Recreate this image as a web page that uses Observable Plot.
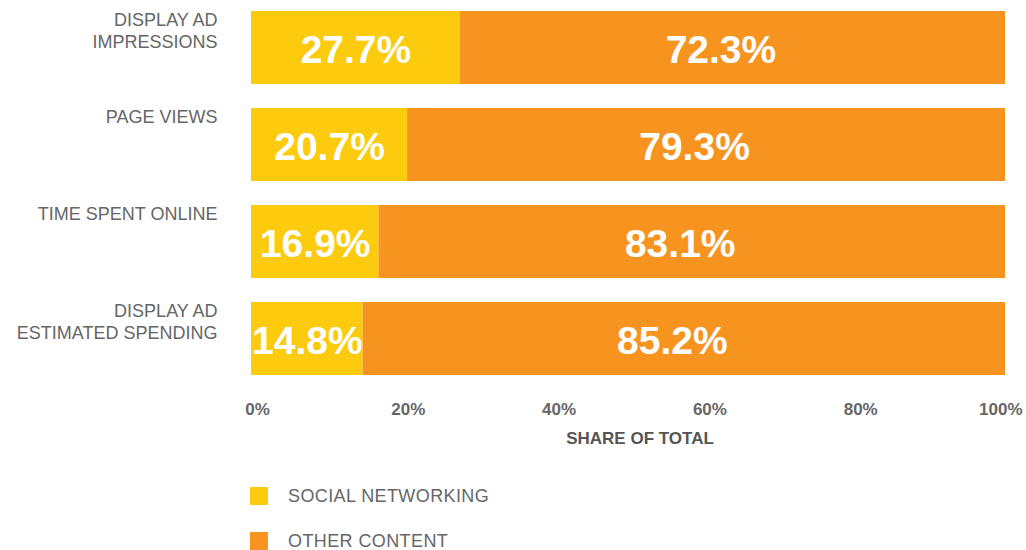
<!DOCTYPE html>
<html>
<head>
<meta charset="utf-8">
<script src="https://cdn.jsdelivr.net/npm/d3@7"></script>
<script src="https://cdn.jsdelivr.net/npm/@observablehq/plot@0.6"></script>
<style>
  html, body { margin: 0; padding: 0; background: #fff; }
  body { width: 1026px; height: 550px; overflow: hidden; font-family: "Liberation Sans", Arial, Helvetica, sans-serif; }
  #chart svg { display: block; }
  #legend { position: relative; margin-left: 250px; margin-top: 27px; }
  .item { display: flex; align-items: center; height: 18px; margin-bottom: 27px; }
  .sw { width: 18px; height: 18px; margin-right: 20px; }
  .lab { font-size: 18px; color: #666; letter-spacing: 0.4px; }
</style>
</head>
<body>
<div id="chart"></div>
<div id="legend"></div>
<script>
const categories = ["DISPLAY AD\nIMPRESSIONS", "PAGE VIEWS", "TIME SPENT ONLINE", "DISPLAY AD\nESTIMATED SPENDING"];
const seriesNames = ["SOCIAL NETWORKING", "OTHER CONTENT"];
const socialNetworking = [27.7, 20.7, 16.9, 14.8];
const otherContent = [72.3, 79.3, 83.1, 85.2];
const xTicks = [0, 20, 40, 60, 80, 100];
const axisTitle = "SHARE OF TOTAL";
const colors = ["#FDCB0E", "#F7941F"];

const rows = [];
categories.forEach((c, i) => {
  rows.push({cat: c, series: seriesNames[0], value: socialNetworking[i]});
  rows.push({cat: c, series: seriesNames[1], value: otherContent[i]});
});
const fmt = d => d.value.toFixed(1) + "%";
const tickFmt = d => d + "%";
const font = '"Liberation Sans", Arial, Helvetica, sans-serif';

const chart = Plot.plot({
  width: 1026,
  height: 460,
  marginLeft: 251,
  marginRight: 21,
  marginTop: 10,
  marginBottom: 85,
  style: {fontFamily: font},
  x: {domain: [0, 100], axis: null},
  y: {domain: categories, paddingInner: 0.25, paddingOuter: 0, axis: null},
  color: {domain: seriesNames, range: colors},
  marks: [
    Plot.barX(rows, Plot.stackX({x: "value", y: "cat", fill: "series", order: seriesNames})),
    Plot.text(rows, Plot.stackX({
      x: "value", y: "cat", z: "series", order: seriesNames,
      text: d => d.series === seriesNames[0] ? fmt(d) : "",
      fill: "white", fontSize: 39, fontWeight: "bold", dy: 3
    })),
    Plot.text(rows, Plot.stackX({
      x: "value", y: "cat", z: "series", order: seriesNames,
      text: d => d.series === seriesNames[1] ? fmt(d) : "",
      fill: "white", fontSize: 39, fontWeight: "bold", dy: 3, dx: -12
    })),
    Plot.text(categories, {
      y: d => d, text: d => d, frameAnchor: "left", textAnchor: "end",
      lineAnchor: "top", lineHeight: 1.26, dx: -34, dy: -38.5,
      fontSize: 18, fill: "#666"
    }),
    Plot.axisX(xTicks.slice(0, -1), {
      tickSize: 0, tickPadding: 27, tickFormat: tickFmt,
      fontSize: 17, fontWeight: "bold", fill: "#666", label: null, dx: 6, letterSpacing: -0.5
    }),
    Plot.axisX(xTicks.slice(-1), {
      tickSize: 0, tickPadding: 27, tickFormat: tickFmt, textAnchor: "end",
      fontSize: 17, fontWeight: "bold", fill: "#666", label: null, dx: 17, letterSpacing: -0.5
    }),
    Plot.text([axisTitle], {
      frameAnchor: "bottom", lineAnchor: "middle", text: d => d, dy: 63, dx: 11.5,
      fontSize: 17, fontWeight: "bold", fill: "#555", letterSpacing: -0.4
    })
  ]
});
document.getElementById("chart").appendChild(chart);

const legend = document.getElementById("legend");
seriesNames.forEach((s, i) => {
  const item = document.createElement("div");
  item.className = "item";
  const sw = document.createElement("div");
  sw.className = "sw";
  sw.style.background = colors[i];
  const lab = document.createElement("span");
  lab.className = "lab";
  lab.textContent = s;
  item.appendChild(sw);
  item.appendChild(lab);
  legend.appendChild(item);
});
</script>
</body>
</html>
